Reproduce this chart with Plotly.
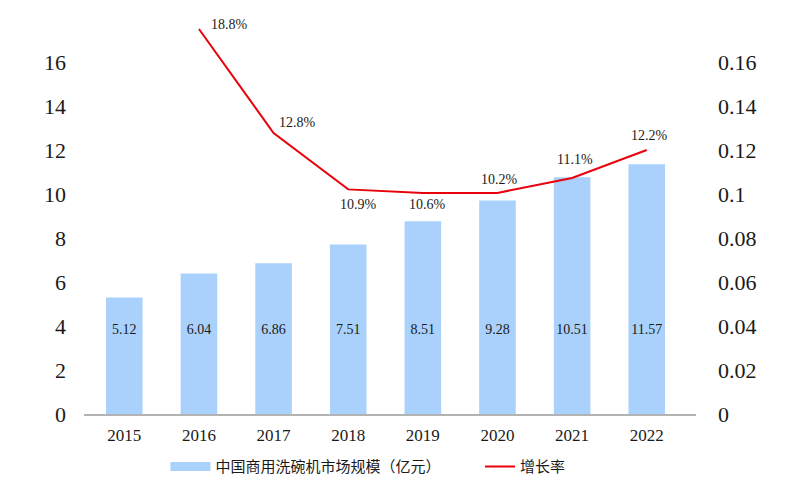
import plotly.graph_objects as go

years = ["2015", "2016", "2017", "2018", "2019", "2020", "2021", "2022"]
market_size = [5.3, 6.39, 6.85, 7.71, 8.76, 9.71, 10.76, 11.35]
market_labels = ["5.12", "6.04", "6.86", "7.51", "8.51", "9.28", "10.51", "11.57"]
growth = [None, 0.175, 0.1277, 0.1021, 0.1005, 0.1005, 0.1073, 0.120]
growth_labels = [None, "18.8%", "12.8%", "10.9%", "10.6%", "10.2%", "11.1%", "12.2%"]
left_ticks = [0, 2, 4, 6, 8, 10, 12, 14, 16]
right_ticks = [0, 0.02, 0.04, 0.06, 0.08, 0.1, 0.12, 0.14, 0.16]
right_tick_text = ["0", "0.02", "0.04", "0.06", "0.08", "0.1", "0.12", "0.14", "0.16"]

bar_name = "中国商用洗碗机市场规模（亿元）"
line_name = "增长率"

# label placement (style, not data)
LABEL_Y = 3.8
growth_label_shift = [None, (31, 5), (24, 11), (10, -15), (5, -12), (2.5, 13), (3, 18), (3, 15)]

SERIF = "Liberation Serif"
CJK = "Noto Sans CJK SC"
TEXT = "#1a1a1a"
BAR_COLOR = "#A9D1FB"
LINE_COLOR = "#E8000B"

fig = go.Figure()
fig.add_trace(go.Bar(
    x=years, y=market_size, name=bar_name,
    marker=dict(color=BAR_COLOR, line=dict(width=0)),
    width=0.49, yaxis="y", showlegend=False, legendgroup="bar",
))
# legend swatch for the bars (wide flat rectangle as in the reference)
fig.add_trace(go.Scatter(
    x=[None], y=[None], name=bar_name, mode="lines",
    line=dict(color=BAR_COLOR, width=9), legendgroup="bar", hoverinfo="skip",
    legend="legend",
))
fig.add_trace(go.Scatter(
    x=years, y=[LABEL_Y] * len(years), mode="text", text=market_labels,
    textfont=dict(family=SERIF, size=14, color=TEXT), textposition="middle center",
    showlegend=False, hoverinfo="skip", yaxis="y", legendgroup="bar",
))
fig.add_trace(go.Scatter(
    x=years, y=growth, name=line_name, mode="lines",
    line=dict(color=LINE_COLOR, width=2), yaxis="y2", connectgaps=False,
    legend="legend2",
))

for i, (g, lab, sh) in enumerate(zip(growth, growth_labels, growth_label_shift)):
    if g is None:
        continue
    fig.add_annotation(
        x=i, y=g, xref="x", yref="y2", text=lab, showarrow=False,
        xshift=sh[0], yshift=sh[1],
        font=dict(family=SERIF, size=14, color=TEXT),
    )

legend_common = dict(
    orientation="h", xref="container", yref="container",
    y=0.034, xanchor="left", yanchor="middle",
    font=dict(family=CJK, size=15, color=TEXT),
    bgcolor="rgba(0,0,0,0)",
)

fig.update_layout(
    width=787, height=475,
    margin=dict(l=76, r=99, t=10, b=69, autoexpand=False),
    paper_bgcolor="white", plot_bgcolor="white",
    showlegend=True,
    xaxis=dict(
        type="category", range=[-0.54, 7.66], automargin=False,
        showline=True, linecolor="#B3B3B3", linewidth=1.5,
        showgrid=False, ticks="", zeroline=False,
        tickfont=dict(family=SERIF, size=17, color=TEXT),
        ticklabelstandoff=5,
    ),
    yaxis=dict(
        range=[0, 18], tickvals=left_ticks, ticktext=[str(t) for t in left_ticks],
        automargin=False,
        showgrid=False, zeroline=False, showline=False, ticks="",
        tickfont=dict(family=SERIF, size=22, color=TEXT),
        ticklabelstandoff=17,
    ),
    yaxis2=dict(
        range=[0, 0.18], tickvals=right_ticks, ticktext=right_tick_text,
        overlaying="y", side="right", automargin=False,
        showgrid=False, zeroline=False, showline=False, ticks="",
        tickfont=dict(family=SERIF, size=22, color=TEXT),
        ticklabelstandoff=21,
    ),
    legend=dict(x=0.2, itemwidth=40, **legend_common),
    legend2=dict(x=0.5998, itemwidth=30, **legend_common),
    bargap=0.5,
)

fig.write_html("out.html")
